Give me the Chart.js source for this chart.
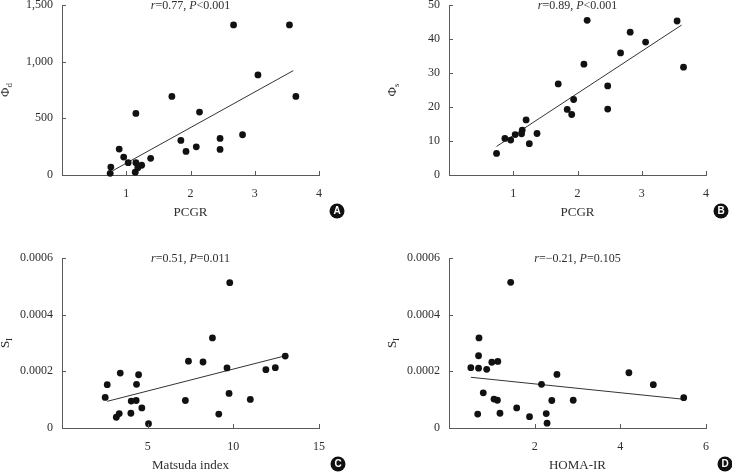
<!DOCTYPE html>
<html lang="en">
<head>
<meta charset="UTF-8">
<title>Scatter panels</title>
<script src="https://cdn.jsdelivr.net/npm/chart.js"></script>
<style>
  body { margin: 0; background: #fff; }
  #wrap { position: relative; width: 732px; height: 474px; overflow: hidden; }
  canvas { position: absolute; }
</style>
</head>
<body>
<div id="wrap">
  <canvas id="chartA" width="366" height="221" style="left:0;top:0;width:366px;height:221px"></canvas>
  <canvas id="chartB" width="345" height="221" style="left:387px;top:0;width:345px;height:221px"></canvas>
  <canvas id="chartC" width="366" height="221" style="left:0;top:253px;width:366px;height:221px"></canvas>
  <canvas id="chartD" width="345" height="221" style="left:387px;top:253px;width:345px;height:221px"></canvas>
</div>
<script>
// Panel A: PCGR vs Phi d
var pcgrA = [0.75, 0.76, 0.89, 0.96, 1.03, 1.15, 1.15, 1.14, 1.18, 1.24, 1.38, 1.71, 1.85, 1.93, 2.09, 2.14, 2.46, 2.46, 2.67, 2.81, 3.05, 3.54, 3.64];
var phiD = [15, 70, 229, 158, 109, 109, 543, 25, 64, 86, 147, 693, 305, 208, 249, 555, 323, 226, 1324, 355, 883, 1324, 693];
var fitAx = [0.79, 3.60];
var fitAy = [38, 921];

// Panel B: PCGR vs Phi s
var pcgrB = [0.74, 0.87, 0.96, 1.03, 1.13, 1.14, 1.20, 1.25, 1.37, 1.70, 1.84, 1.91, 1.94, 2.10, 2.15, 2.47, 2.47, 2.67, 2.82, 3.06, 3.55, 3.65];
var phiS = [6.35, 10.75, 10.26, 11.9, 12.1, 13.2, 16.2, 9.2, 12.2, 26.8, 19.3, 17.8, 22.2, 32.6, 45.5, 26.2, 19.4, 35.9, 42.0, 39.1, 45.3, 31.7];
var fitBx = [0.74, 3.62];
var fitBy = [8.4, 44.1];

// Panel C: Matsuda index vs SI
var matsuda = [2.52, 2.64, 3.17, 3.34, 3.40, 4.02, 4.04, 4.33, 4.35, 4.47, 4.66, 5.05, 7.20, 7.38, 8.23, 8.78, 9.15, 9.63, 9.79, 9.75, 10.99, 11.90, 12.45, 13.03];
var siC = [0.000108, 0.000153, 0.000038, 0.000051, 0.000194, 0.000052, 0.000095, 0.000097, 0.000154, 0.000188, 0.000071, 0.000015, 0.000097, 0.000236, 0.000233, 0.000318, 0.000049, 0.000212, 0.000513, 0.000122, 0.000101, 0.000206, 0.000213, 0.000254];
var fitCx = [2.64, 12.91];
var fitCy = [0.0000941, 0.000253];

// Panel D: HOMA-IR vs SI
var homa = [0.51, 0.67, 0.69, 0.69, 0.70, 0.80, 0.88, 1.00, 1.05, 1.14, 1.13, 1.19, 1.44, 1.58, 1.88, 2.16, 2.27, 2.29, 2.40, 2.52, 2.90, 4.20, 4.77, 5.48];
var siD = [0.000213, 0.000049, 0.000211, 0.000255, 0.000318, 0.000124, 0.000207, 0.000232, 0.000102, 0.000235, 0.000098, 0.000052, 0.000514, 0.000071, 0.000040, 0.000154, 0.000051, 0.000017, 0.000097, 0.000189, 0.000098, 0.000195, 0.000153, 0.000107];
var fitDx = [0.51, 5.44];
var fitDy = [0.000179, 0.000102];

// ticks
var pcgrTicks = [0, 1, 2, 3, 4];
var pcgrTickLabels = ['', '1', '2', '3', '4'];
var phiDTicks = [0, 500, 1000, 1500];
var phiDTickLabels = ['0', '500', '1,000', '1,500'];
var phiSTicks = [0, 10, 20, 30, 40, 50];
var phiSTickLabels = ['0', '10', '20', '30', '40', '50'];
var matsudaTicks = [0, 5, 10, 15];
var matsudaTickLabels = ['', '5', '10', '15'];
var homaTicks = [0, 2, 4, 6];
var homaTickLabels = ['', '2', '4', '6'];
var siTicks = [0, 0.0002, 0.0004, 0.0006];
var siTickLabels = ['0', '0.0002', '0.0004', '0.0006'];

var SERIF = "'Liberation Serif', 'DejaVu Serif', serif";
var TEXT = '#2e2e2e';
var AXIS = '#5a5a5a';

function pts(xs, ys) {
  return xs.map(function (x, i) { return { x: x, y: ys[i] }; });
}

// axis titles with subscripts, stats text, circled letter, inward tick marks
var decoPlugin = {
  id: 'deco',
  afterDraw: function (chart) {
    var o = chart.options.plugins.deco;
    var ctx = chart.ctx;
    var a = chart.chartArea;
    ctx.save();

    // inward ticks
    ctx.strokeStyle = AXIS;
    ctx.lineWidth = 1;
    var xs = chart.scales.x, ys = chart.scales.y;
    xs.ticks.forEach(function (t) {
      var px = Math.round(xs.getPixelForValue(t.value)) + 0.5;
      ctx.beginPath(); ctx.moveTo(px, a.bottom); ctx.lineTo(px, a.bottom - 4); ctx.stroke();
    });
    ys.ticks.forEach(function (t) {
      var py = Math.round(ys.getPixelForValue(t.value)) + 0.5;
      ctx.beginPath(); ctx.moveTo(a.left, py); ctx.lineTo(a.left + 4, py); ctx.stroke();
    });

    // y title
    ctx.fillStyle = TEXT;
    ctx.save();
    ctx.translate(a.left - 57, (a.top + a.bottom) / 2);
    ctx.rotate(-Math.PI / 2);
    ctx.font = '13px ' + SERIF;
    var w1 = ctx.measureText(o.yTitle).width;
    ctx.font = '9px ' + SERIF;
    var w2 = ctx.measureText(o.ySub).width;
    var sx = -(w1 + w2) / 2;
    ctx.textBaseline = 'alphabetic';
    ctx.font = '13px ' + SERIF;
    ctx.fillText(o.yTitle, sx, 4);
    ctx.font = '9px ' + SERIF;
    ctx.fillText(o.ySub, sx + w1, 7);
    ctx.restore();

    // stats line
    ctx.textBaseline = 'middle';
    var total = 0;
    o.stat.forEach(function (s) {
      ctx.font = (s.i ? 'italic ' : '') + '12px ' + SERIF;
      total += ctx.measureText(s.t).width;
    });
    var x = (a.left + a.right) / 2 - total / 2;
    o.stat.forEach(function (s) {
      ctx.font = (s.i ? 'italic ' : '') + '12px ' + SERIF;
      ctx.fillText(s.t, x, a.top + 1);
      x += ctx.measureText(s.t).width;
    });

    // circled letter
    var cx = a.right + o.letterDx, cy = a.bottom + 36;
    ctx.fillStyle = '#111';
    ctx.beginPath(); ctx.arc(cx, cy, 7.5, 0, Math.PI * 2); ctx.fill();
    ctx.fillStyle = '#fff';
    ctx.font = "bold 10px 'Liberation Sans', Arial, sans-serif";
    ctx.textAlign = 'center';
    ctx.fillText(o.letter, cx, cy + 0.5);
    ctx.restore();
  }
};

function makePanel(id, cfg) {
  return new Chart(document.getElementById(id), {
    type: 'scatter',
    data: {
      datasets: [
        {
          data: pts(cfg.xs, cfg.ys),
          backgroundColor: '#111',
          borderWidth: 0,
          pointRadius: 3.4,
          clip: false
        },
        {
          type: 'line',
          data: pts(cfg.fitX, cfg.fitY),
          borderColor: '#333',
          borderWidth: 1,
          pointRadius: 0,
          fill: false
        }
      ]
    },
    options: {
      responsive: false,
      animation: false,
      layout: { padding: { top: 5, right: cfg.padRight, left: 0, bottom: 0 } },
      plugins: {
        legend: { display: false },
        tooltip: { enabled: false },
        deco: cfg.deco
      },
      scales: {
        x: {
          type: 'linear',
          min: cfg.xTicks[0],
          max: cfg.xTicks[cfg.xTicks.length - 1],
          afterBuildTicks: function (s) { s.ticks = cfg.xTicks.map(function (v) { return { value: v }; }); },
          afterFit: function (s) { s.height = 46; s.paddingLeft = 0; s.paddingRight = 0; },
          grid: { display: false, drawTicks: false },
          border: { display: true, color: AXIS, width: 1 },
          ticks: {
            padding: 12,
            color: TEXT,
            font: { family: SERIF, size: 12 },
            maxRotation: 0,
            autoSkip: false,
            callback: function (v, i) { return cfg.xLabels[i]; }
          },
          title: {
            display: true,
            text: cfg.xTitle,
            color: TEXT,
            font: { family: SERIF, size: 13 },
            padding: { top: 0, bottom: 1 }
          }
        },
        y: {
          type: 'linear',
          min: cfg.yTicks[0],
          max: cfg.yTicks[cfg.yTicks.length - 1],
          afterBuildTicks: function (s) { s.ticks = cfg.yTicks.map(function (v) { return { value: v }; }); },
          afterFit: function (s) { s.width = 62; s.paddingTop = 0; s.paddingBottom = 0; },
          grid: { display: false, drawTicks: false },
          border: { display: true, color: AXIS, width: 1 },
          ticks: {
            padding: 9,
            color: TEXT,
            font: { family: SERIF, size: 12 },
            autoSkip: false,
            callback: function (v, i) { return cfg.yLabels[i]; }
          }
        }
      }
    },
    plugins: [decoPlugin]
  });
}

makePanel('chartA', {
  xs: pcgrA, ys: phiD, fitX: fitAx, fitY: fitAy,
  xTicks: pcgrTicks, xLabels: pcgrTickLabels, yTicks: phiDTicks, yLabels: phiDTickLabels,
  xTitle: 'PCGR', padRight: 47,
  deco: { yTitle: 'Φ', ySub: 'd', letter: 'A', letterDx: 18,
    stat: [{ t: 'r', i: true }, { t: '=0.77, ' }, { t: 'P', i: true }, { t: '<0.001' }] }
});

makePanel('chartB', {
  xs: pcgrB, ys: phiS, fitX: fitBx, fitY: fitBy,
  xTicks: pcgrTicks, xLabels: pcgrTickLabels, yTicks: phiSTicks, yLabels: phiSTickLabels,
  xTitle: 'PCGR', padRight: 26,
  deco: { yTitle: 'Φ', ySub: 's', letter: 'B', letterDx: 15,
    stat: [{ t: 'r', i: true }, { t: '=0.89, ' }, { t: 'P', i: true }, { t: '<0.001' }] }
});

makePanel('chartC', {
  xs: matsuda, ys: siC, fitX: fitCx, fitY: fitCy,
  xTicks: matsudaTicks, xLabels: matsudaTickLabels, yTicks: siTicks, yLabels: siTickLabels,
  xTitle: 'Matsuda index', padRight: 47,
  deco: { yTitle: 'S', ySub: 'I', letter: 'C', letterDx: 19,
    stat: [{ t: 'r', i: true }, { t: '=0.51, ' }, { t: 'P', i: true }, { t: '=0.011' }] }
});

makePanel('chartD', {
  xs: homa, ys: siD, fitX: fitDx, fitY: fitDy,
  xTicks: homaTicks, xLabels: homaTickLabels, yTicks: siTicks, yLabels: siTickLabels,
  xTitle: 'HOMA-IR', padRight: 26,
  deco: { yTitle: 'S', ySub: 'I', letter: 'D', letterDx: 19,
    stat: [{ t: 'r', i: true }, { t: '=\u22120.21, ' }, { t: 'P', i: true }, { t: '=0.105' }] }
});
</script>
</body>
</html>
